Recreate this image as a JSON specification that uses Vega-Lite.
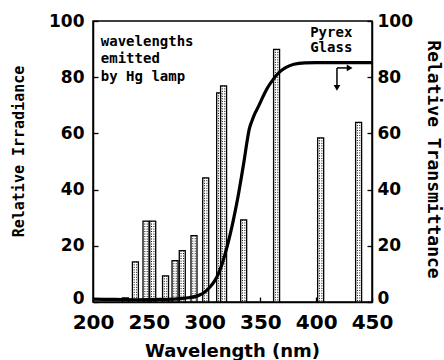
{
  "$schema": "https://vega.github.io/schema/vega-lite/v6.json",
  "width": 279,
  "height": 281,
  "autosize": {"type": "none"},
  "padding": {"left": 93, "top": 21, "right": 72, "bottom": 58},
  "background": "white",
  "config": {
    "view": {"stroke": "black", "strokeWidth": 1.5},
    "scale": {"continuousPadding": 0},
    "axis": {"grid": false, "domainColor": "black", "domainWidth": 1.5, "tickColor": "black", "tickWidth": 1.3, "labelColor": "black", "titleColor": "black", "labelFont": "DejaVu Sans", "labelFontWeight": "bold", "titleFont": "DejaVu Sans Mono"}
  },
  "datasets": {
    "hg": [
      {"nm": 229, "irr": 1.5},
      {"nm": 238, "irr": 14.3},
      {"nm": 247.5, "irr": 28.8},
      {"nm": 253.5, "irr": 28.8},
      {"nm": 265, "irr": 9.3},
      {"nm": 273.5, "irr": 14.7},
      {"nm": 280, "irr": 18.3},
      {"nm": 290.5, "irr": 23.6},
      {"nm": 301, "irr": 44.2},
      {"nm": 313.5, "irr": 74.4},
      {"nm": 317, "irr": 76.9},
      {"nm": 335, "irr": 29.2},
      {"nm": 364.5, "irr": 89.9},
      {"nm": 404, "irr": 58.4},
      {"nm": 438, "irr": 63.9}
    ],
    "pyrex": [
      {"nm": 200, "t": 1.0},
      {"nm": 220, "t": 0.9},
      {"nm": 240, "t": 0.8},
      {"nm": 260, "t": 0.9},
      {"nm": 275, "t": 1.1},
      {"nm": 285, "t": 1.5},
      {"nm": 292, "t": 2.0},
      {"nm": 296, "t": 2.6},
      {"nm": 300, "t": 3.5},
      {"nm": 305, "t": 5.4},
      {"nm": 309, "t": 7.5},
      {"nm": 312.5, "t": 10.2},
      {"nm": 315.5, "t": 13.3},
      {"nm": 318.5, "t": 17.3},
      {"nm": 321.5, "t": 21.8},
      {"nm": 324.5, "t": 26.8},
      {"nm": 327.5, "t": 32.5},
      {"nm": 330.5, "t": 38.7},
      {"nm": 333, "t": 44.5},
      {"nm": 335.5, "t": 50.5},
      {"nm": 338, "t": 57},
      {"nm": 340, "t": 61.5},
      {"nm": 342.5, "t": 64.5},
      {"nm": 345, "t": 67},
      {"nm": 348.5, "t": 69.8},
      {"nm": 352, "t": 72.8},
      {"nm": 356, "t": 76},
      {"nm": 362, "t": 79.5},
      {"nm": 367, "t": 81.8},
      {"nm": 373, "t": 83.5},
      {"nm": 380, "t": 84.6},
      {"nm": 390, "t": 85.1},
      {"nm": 400, "t": 85.2},
      {"nm": 450, "t": 85.2}
    ],
    "notesLeft": [
      {"text": "wavelengths", "x": 207, "y": 92.6},
      {"text": "emitted", "x": 207, "y": 86.5},
      {"text": "by Hg lamp", "x": 207, "y": 80.1}
    ],
    "notesCenter": [
      {"text": "Pyrex", "x": 413.5, "y": 95.6},
      {"text": "Glass", "x": 413.5, "y": 90.3}
    ],
    "arrowLines": [
      {"x": 418.6, "y": 83.3, "x2": 418.6, "y2": 77},
      {"x": 418.6, "y": 83.3, "x2": 428.5, "y2": 83.3}
    ],
    "arrowHeads": [
      {"x": 418.6, "y": 76.2, "shape": "triangle-down"},
      {"x": 430, "y": 83.3, "shape": "triangle-right"}
    ]
  },
  "layer": [
    {
      "layer": [
        {
          "data": {"name": "hg"},
          "mark": {"type": "bar", "width": 6, "fill": "white", "stroke": "black", "strokeWidth": 1.3},
          "encoding": {
            "x": {"field": "nm", "type": "quantitative", "scale": {"domain": [200, 450], "nice": false, "zero": false, "padding": 0},
              "axis": {"title": "Wavelength (nm)", "values": [200, 225, 250, 275, 300, 325, 350, 375, 400, 425, 450],
                "labelExpr": "datum.value % 50 === 0 ? datum.label : ''", "tickSize": -5, "labelPadding": 15,
                "labelFontSize": 20, "labelFlush": false,
                "titleFont": "DejaVu Sans", "titleFontWeight": "bold", "titleFontSize": 18,
                "titleX": 139, "titleY": 49, "titleBaseline": "middle", "titleAlign": "center"}},
            "y": {"field": "irr", "type": "quantitative", "scale": {"domain": [0, 100], "nice": false, "padding": 0},
              "axis": {"title": "Relative Irradiance", "orient": "left", "values": [0, 10, 20, 30, 40, 50, 60, 70, 80, 90, 100],
                "labelExpr": "datum.value % 20 === 0 ? datum.label : ''", "tickSize": -5, "labelPadding": 14,
                "labelOffset": {"condition": {"test": "datum.value === 0", "value": -4}, "value": 0},
                "labelFontSize": 17, "labelFlush": false,
                "titleFontSize": 15, "titleFontWeight": "bold",
                "titleX": -75, "titleY": 130, "titleAngle": -90, "titleBaseline": "middle", "titleAlign": "center"}}
          }
        },
        {
          "data": {"name": "hg"},
          "mark": {"type": "rule", "strokeDash": [1, 1.5], "strokeWidth": 1, "xOffset": -1.2, "color": "black"},
          "encoding": {
            "x": {"field": "nm", "type": "quantitative", "scale": {"domain": [200, 450], "nice": false, "zero": false, "padding": 0}},
            "y": {"field": "irr", "type": "quantitative", "scale": {"domain": [0, 100], "nice": false, "padding": 0}},
            "y2": {"datum": 0}
          }
        },
        {
          "data": {"name": "hg"},
          "mark": {"type": "rule", "strokeDash": [1, 1.5], "strokeWidth": 1, "xOffset": 1.2, "color": "black"},
          "encoding": {
            "x": {"field": "nm", "type": "quantitative", "scale": {"domain": [200, 450], "nice": false, "zero": false, "padding": 0}},
            "y": {"field": "irr", "type": "quantitative", "scale": {"domain": [0, 100], "nice": false, "padding": 0}},
            "y2": {"datum": 0}
          }
        },
        {
          "data": {"name": "notesLeft"},
          "mark": {"type": "text", "font": "DejaVu Sans Mono", "fontWeight": "bold", "fontSize": 14, "baseline": "middle", "align": "left", "color": "black"},
          "encoding": {
            "x": {"field": "x", "type": "quantitative", "scale": {"domain": [200, 450], "nice": false, "zero": false, "padding": 0}},
            "y": {"field": "y", "type": "quantitative", "scale": {"domain": [0, 100], "nice": false, "padding": 0}},
            "text": {"field": "text"}
          }
        },
        {
          "data": {"name": "notesCenter"},
          "mark": {"type": "text", "font": "DejaVu Sans Mono", "fontWeight": "bold", "fontSize": 14, "baseline": "middle", "align": "center", "color": "black"},
          "encoding": {
            "x": {"field": "x", "type": "quantitative", "scale": {"domain": [200, 450], "nice": false, "zero": false, "padding": 0}},
            "y": {"field": "y", "type": "quantitative", "scale": {"domain": [0, 100], "nice": false, "padding": 0}},
            "text": {"field": "text"}
          }
        }
      ]
    },
    {
      "layer": [
        {
          "data": {"name": "pyrex"},
          "mark": {"type": "line", "color": "black", "strokeWidth": 3.2, "interpolate": "monotone"},
          "encoding": {
            "x": {"field": "nm", "type": "quantitative", "scale": {"domain": [200, 450], "nice": false, "zero": false, "padding": 0}},
            "y": {"field": "t", "type": "quantitative", "scale": {"domain": [0, 100], "nice": false, "padding": 0},
              "axis": {"title": "Relative Transmittance", "orient": "right", "values": [0, 10, 20, 30, 40, 50, 60, 70, 80, 90, 100],
                "labelExpr": "datum.value % 20 === 0 ? datum.label : ''", "tickSize": -5, "labelPadding": 10,
                "labelOffset": {"condition": {"test": "datum.value === 0", "value": -4}, "value": 0},
                "labelFontSize": 17, "labelFlush": false,
                "titleFontSize": 18, "titleFontWeight": "bold",
                "titleX": 60, "titleY": 138, "titleAngle": 90, "titleBaseline": "middle", "titleAlign": "center"}}
          }
        },
        {
          "data": {"name": "arrowLines"},
          "mark": {"type": "rule", "color": "black", "strokeWidth": 1.5},
          "encoding": {
            "x": {"field": "x", "type": "quantitative", "scale": {"domain": [200, 450], "nice": false, "zero": false, "padding": 0}},
            "x2": {"field": "x2"},
            "y": {"field": "y", "type": "quantitative", "scale": {"domain": [0, 100], "nice": false, "padding": 0}},
            "y2": {"field": "y2"}
          }
        },
        {
          "data": {"name": "arrowHeads"},
          "mark": {"type": "point", "filled": true, "color": "black", "size": 45, "opacity": 1},
          "encoding": {
            "x": {"field": "x", "type": "quantitative", "scale": {"domain": [200, 450], "nice": false, "zero": false, "padding": 0}},
            "y": {"field": "y", "type": "quantitative", "scale": {"domain": [0, 100], "nice": false, "padding": 0}},
            "shape": {"field": "shape", "type": "nominal", "scale": null, "legend": null}
          }
        }
      ]
    }
  ],
  "resolve": {"scale": {"y": "independent"}}
}
